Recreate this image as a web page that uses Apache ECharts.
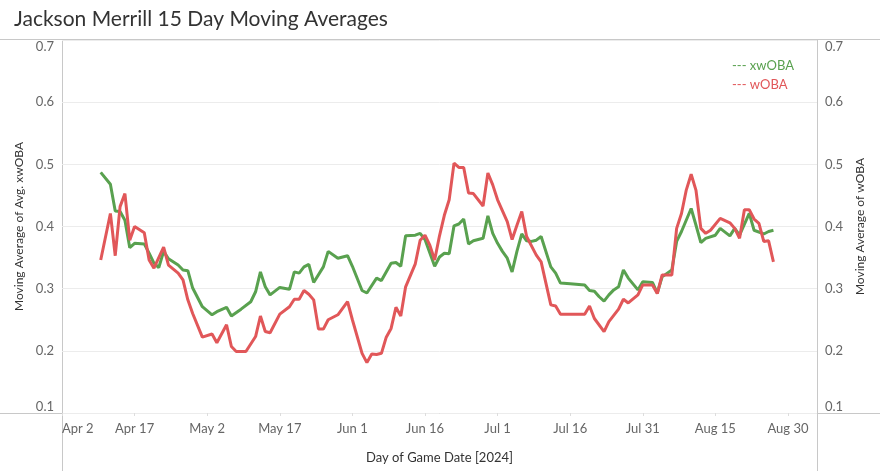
<!DOCTYPE html>
<html>
<head>
<meta charset="utf-8">
<script src="https://cdn.jsdelivr.net/npm/echarts@6/dist/echarts.min.js"></script>
<style>
html,body{margin:0;padding:0;background:#fff;}
#chart{width:880px;height:471px;}
</style>
</head>
<body>
<div id="chart"></div>
<script>
// Tick labels of the date axis (every 15 days from Apr 2, 2024)
var xTickLabels = ['Apr 2','Apr 17','May 2','May 17','Jun 1','Jun 16','Jul 1','Jul 16','Jul 31','Aug 15','Aug 30'];

// xwOBA 15-day moving average (2024, MM-DD)
var xwobaDates = ['04-10','04-12','04-13','04-14','04-15','04-16','04-17','04-19','04-20','04-21','04-22','04-23','04-24','04-26','04-27','04-28','04-29',
  '05-01','05-03','05-04','05-06','05-07','05-09','05-11','05-12','05-13','05-14','05-15','05-17','05-19','05-20','05-21','05-22','05-23','05-24','05-26','05-27','05-29','05-31',
  '06-01','06-03','06-04','06-06','06-07','06-09','06-10','06-11','06-12','06-14','06-15','06-16','06-18','06-19','06-20','06-21','06-22','06-23','06-24','06-25','06-26','06-27','06-28','06-29','06-30',
  '07-01','07-02','07-03','07-04','07-05','07-06','07-07','07-08','07-09','07-10','07-12','07-13','07-14','07-16','07-19','07-20','07-21','07-22','07-23','07-24','07-25','07-26','07-27','07-28','07-30','07-31',
  '08-02','08-03','08-04','08-06','08-07','08-08','08-10','08-11','08-12','08-13','08-15','08-16','08-18','08-19','08-20','08-22','08-23','08-25','08-26','08-27'];
var xwobaValues = [0.487,0.468,0.425,0.424,0.410,0.366,0.373,0.372,0.357,0.341,0.334,0.360,0.348,0.338,0.330,0.329,0.301,
  0.271,0.258,0.263,0.270,0.256,0.267,0.279,0.295,0.327,0.303,0.290,0.302,0.299,0.327,0.325,0.335,0.339,0.310,0.335,0.360,0.349,0.353,
  0.336,0.297,0.293,0.317,0.313,0.341,0.342,0.336,0.385,0.386,0.389,0.379,0.336,0.351,0.357,0.356,0.401,0.404,0.412,0.372,0.377,0.379,0.381,0.417,0.389,
  0.373,0.360,0.349,0.327,0.360,0.388,0.377,0.376,0.378,0.384,0.335,0.325,0.309,0.308,0.306,0.297,0.296,0.287,0.280,0.290,0.298,0.303,0.330,0.317,0.298,0.311,
  0.310,0.293,0.319,0.330,0.376,0.392,0.429,0.402,0.374,0.381,0.386,0.397,0.385,0.397,0.386,0.421,0.394,0.388,0.392,0.394];

// wOBA 15-day moving average (2024, MM-DD)
var wobaDates = ['04-10','04-12','04-13','04-14','04-15','04-16','04-17','04-19','04-20','04-21','04-23','04-24','04-26','04-27','04-28','04-29',
  '05-01','05-03','05-04','05-06','05-07','05-08','05-10','05-12','05-13','05-14','05-15','05-17','05-19','05-20','05-21','05-22','05-23','05-24','05-25','05-26','05-27','05-29','05-31',
  '06-01','06-03','06-04','06-05','06-06','06-07','06-08','06-09','06-10','06-11','06-12','06-14','06-15','06-16','06-17','06-18','06-19','06-20','06-21','06-22','06-23','06-24','06-25','06-26','06-28','06-29','06-30',
  '07-01','07-03','07-04','07-05','07-06','07-07','07-09','07-10','07-12','07-13','07-14','07-19','07-20','07-21','07-23','07-24','07-26','07-27','07-28','07-30','07-31',
  '08-02','08-03','08-04','08-06','08-07','08-08','08-09','08-10','08-11','08-12','08-13','08-14','08-16','08-18','08-19','08-20','08-21','08-22','08-23','08-24','08-25','08-26','08-27'];
var wobaValues = [0.346,0.421,0.353,0.432,0.453,0.378,0.400,0.390,0.346,0.333,0.367,0.338,0.325,0.314,0.282,0.260,
  0.222,0.227,0.213,0.242,0.207,0.199,0.199,0.223,0.256,0.231,0.229,0.259,0.271,0.283,0.283,0.297,0.291,0.282,0.235,0.235,0.250,0.258,0.279,
  0.250,0.196,0.181,0.195,0.194,0.196,0.222,0.236,0.270,0.256,0.303,0.340,0.378,0.386,0.370,0.346,0.385,0.418,0.443,0.502,0.495,0.495,0.454,0.453,0.433,0.486,0.467,
  0.443,0.408,0.379,0.402,0.424,0.384,0.354,0.343,0.274,0.272,0.259,0.259,0.272,0.252,0.231,0.247,0.267,0.283,0.277,0.290,0.306,
  0.306,0.292,0.322,0.322,0.397,0.421,0.459,0.484,0.458,0.397,0.389,0.394,0.413,0.406,0.397,0.381,0.427,0.427,0.412,0.405,0.376,0.377,0.343];

var BASE = Date.UTC(2024, 3, 2);
function dayIndex(md) {
  var p = md.split('-');
  return Math.round((Date.UTC(2024, +p[0] - 1, +p[1]) - BASE) / 864e5);
}
function pairs(dates, vals) {
  return dates.map(function (d, i) { return [dayIndex(d), vals[i]]; });
}

var GREEN = '#59a14f', RED = '#e15759';
var FRAME = '#c8c8c8';

var chart = echarts.init(document.getElementById('chart'));
var yCommon = {
  type: 'value', min: 0.1, max: 0.7, interval: 0.1,
  axisLine: { show: false }, axisTick: { show: false },
  splitLine: { lineStyle: { color: '#ececec', width: 1 } },
  nameLocation: 'middle', nameRotate: 90,
  nameTextStyle: { fontFamily: 'Lato, sans-serif', fontSize: 12, color: '#333' },
  axisLabel: {
    fontFamily: 'Lato, sans-serif', fontSize: 13, color: '#666',
    formatter: function (v) { return v.toFixed(1); },
    verticalAlignMinLabel: 'bottom', verticalAlignMaxLabel: 'top'
  }
};
chart.setOption({
  backgroundColor: '#fff',
  animation: false,
  title: {
    text: 'Jackson Merrill 15 Day Moving Averages',
    left: 9, top: 4,
    textStyle: { fontFamily: 'Lato, sans-serif', fontSize: 21, fontWeight: 'normal', color: '#333' }
  },
  legend: {
    orient: 'vertical', left: 722, top: 54, itemGap: 6,
    icon: 'none', itemWidth: 0, itemHeight: 0,
    formatter: function (n) { return '--- ' + n; },
    data: [
      { name: 'xwOBA', textStyle: { color: GREEN } },
      { name: 'wOBA', textStyle: { color: RED } }
    ],
    textStyle: { fontFamily: 'Lato, sans-serif', fontSize: 13, padding: 0 }
  },
  grid: { left: 62, right: 63, top: 40, bottom: 58 },
  xAxis: {
    type: 'value', min: 0, max: 156, interval: 15,
    name: 'Day of Game Date [2024]', nameLocation: 'middle', nameGap: 38,
    nameTextStyle: { fontFamily: '"Liberation Sans Narrow", Lato, sans-serif', fontSize: 13, color: '#333' },
    axisLine: { show: false },
    axisTick: { show: true, length: 3, lineStyle: { color: '#ddd' } },
    splitLine: { show: false },
    axisLabel: {
      margin: 9, fontFamily: '"Liberation Sans Narrow", Lato, sans-serif', fontSize: 13, color: '#666',
      showMaxLabel: false, alignMinLabel: 'left',
      formatter: function (v) { return (v % 15 === 0 && xTickLabels[v / 15]) ? xTickLabels[v / 15] : ''; }
    }
  },
  yAxis: [
    Object.assign({}, yCommon, { name: 'Moving Average of Avg. xwOBA', nameGap: 36, position: 'left' }),
    Object.assign({}, yCommon, { name: 'Moving Average of wOBA', nameGap: 34, position: 'right', splitLine: { show: false } })
  ],
  series: [
    { name: 'xwOBA', type: 'line', yAxisIndex: 0, data: pairs(xwobaDates, xwobaValues),
      showSymbol: false, lineStyle: { color: GREEN, width: 3 }, itemStyle: { color: GREEN }, z: 2 },
    { name: 'wOBA', type: 'line', yAxisIndex: 1, data: pairs(wobaDates, wobaValues),
      showSymbol: false, lineStyle: { color: RED, width: 3 }, itemStyle: { color: RED }, z: 3 }
  ],
  graphic: [
    { type: 'line', shape: { x1: 0, y1: 39.5, x2: 880, y2: 39.5 }, style: { stroke: FRAME, lineWidth: 1 }, silent: true },
    { type: 'line', shape: { x1: 0, y1: 413.5, x2: 880, y2: 413.5 }, style: { stroke: FRAME, lineWidth: 1 }, silent: true },
    { type: 'line', shape: { x1: 62.5, y1: 39.5, x2: 62.5, y2: 471 }, style: { stroke: FRAME, lineWidth: 1 }, silent: true },
    { type: 'line', shape: { x1: 817.5, y1: 39.5, x2: 817.5, y2: 471 }, style: { stroke: FRAME, lineWidth: 1 }, silent: true }
  ]
});
</script>
</body>
</html>
